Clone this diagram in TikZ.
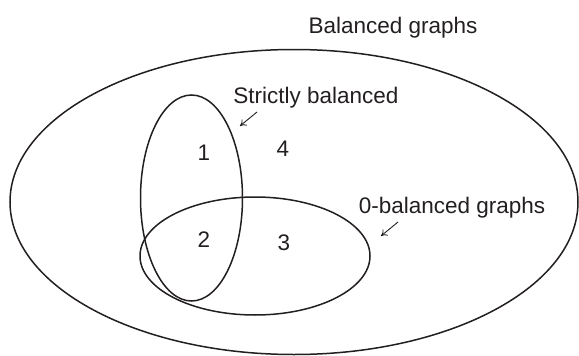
\documentclass[tikz,border=0pt]{standalone}
\usepackage{fontspec}
\setmainfont{Liberation Sans}
\usetikzlibrary{shapes.geometric,arrows.meta}
\definecolor{ink}{HTML}{231F20}
\begin{document}
\begin{tikzpicture}[x=1pt,y=-1pt,
  setline/.style={draw=ink, ellipse, line width=1.5pt, inner sep=0pt},
  lbl/.style={text=ink, font=\fontsize{22.5}{26}\selectfont, inner sep=0pt},
  num/.style={text=ink, font=\fontsize{22.5}{26}\selectfont, inner sep=0pt},
  pointer/.style={draw=ink, -{To[length=6pt,width=8pt]}, line width=0.9pt}]
\useasboundingbox (0,0) rectangle (579,356);
\node[setline, minimum width=568pt, minimum height=305pt] (big) at (294,202) {};
\node[setline, minimum width=102pt, minimum height=206pt] (strict) at (191.5,198) {};
\node[setline, minimum width=230pt, minimum height=118pt] (zero) at (255,256) {};
\node[lbl] (tbal) at (393,28) {Balanced graphs};
\node[lbl] (tstrict) at (316,98) {Strictly balanced};
\node[lbl] (tzero) at (452,208) {0-balanced graphs};
\node[num] (n1) at (204,153) {1};
\node[num] (n4) at (283,149) {4};
\node[num] (n2) at (204,240) {2};
\node[num] (n3) at (284,243) {3};
\coordinate (s1) at (257,112);
\coordinate (s2) at (240,126);
\coordinate (z1) at (398,222);
\coordinate (z2) at (381,236);
\draw[pointer] (s1) -- (s2);
\draw[pointer] (z1) -- (z2);
\end{tikzpicture}
\end{document}
